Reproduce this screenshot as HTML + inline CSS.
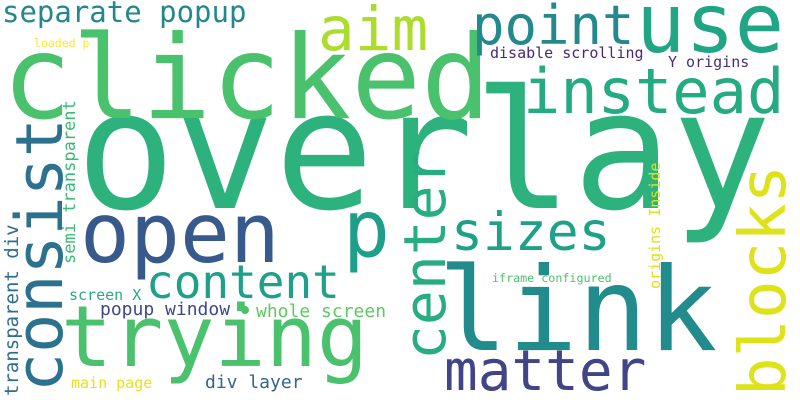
<!DOCTYPE html>
<html><head><meta charset="utf-8"><style>
html,body{margin:0;padding:0;background:#fff}
svg{display:block}
text{font-family:"DejaVu Sans Mono","Liberation Mono",monospace}
</style></head>
<body>
<svg id="cloud" width="800" height="400" viewBox="0 0 800 400" xmlns="http://www.w3.org/2000/svg">
<rect width="800" height="400" fill="#fff"/>
<circle cx="245" cy="310" r="4" fill="#4ac16d"/>
</svg>
<script>
const words = ["overlay","clicked","use","point","disable scrolling","Y origins","instead","aim","separate popup","loaded p","consist","transparent div","semi transparent","open","p","content","screen X","popup window","whole screen","trying","main page","div layer","center","sizes","link","iframe configured","origins Inside","matter","blocks"];
const sizes = [165,116,82,54,15,15,62,61,29,11.5,65,19,17,83,78,46,15,18,18,85,15,18,58,53,116,11.7,15,56,64];
const colors = ["#2db27d","#4ac16d","#21a685","#23898e","#482878","#46307e","#25ab82","#addc30","#24868e","#fde725","#2c728e","#2f6c8e","#3bbb75","#38598c","#1f9e89","#1fa088","#25ac82","#3f4788","#5ec962","#4ac16d","#e5e419","#33638d","#27ad81","#1fa187","#228c8d","#4ac16d","#dde318","#414487","#dde318"];
const vertical = [0,0,0,0,0,0,0,0,0,0,1,1,1,0,0,0,0,0,0,0,0,0,1,0,0,0,1,0,1];
const anchorX = [76,2,636,472,490,668,523,318,2,34,62,18,75,80,343,146,69,100,256,61,71,205,445,451,438,492,660,444,785];
const anchorY = [208,118,52,44,58,67,113,50,22,47,392,396,264,262,256,298,300,315,317,366,388,388,360,250,350,282,289,390,396];
const svg = document.getElementById('cloud');
const NS = 'http://www.w3.org/2000/svg';
for (let i = 0; i < words.length; i++) {
  const t = document.createElementNS(NS, 'text');
  t.textContent = words[i];
  t.setAttribute('font-size', sizes[i]);
  t.setAttribute('fill', colors[i]);
  if (vertical[i]) {
    t.setAttribute('transform', 'translate(' + anchorX[i] + ',' + anchorY[i] + ') rotate(-90)');
  } else {
    t.setAttribute('x', anchorX[i]);
    t.setAttribute('y', anchorY[i]);
  }
  
  
  svg.appendChild(t);
}
</script>
</body></html>
